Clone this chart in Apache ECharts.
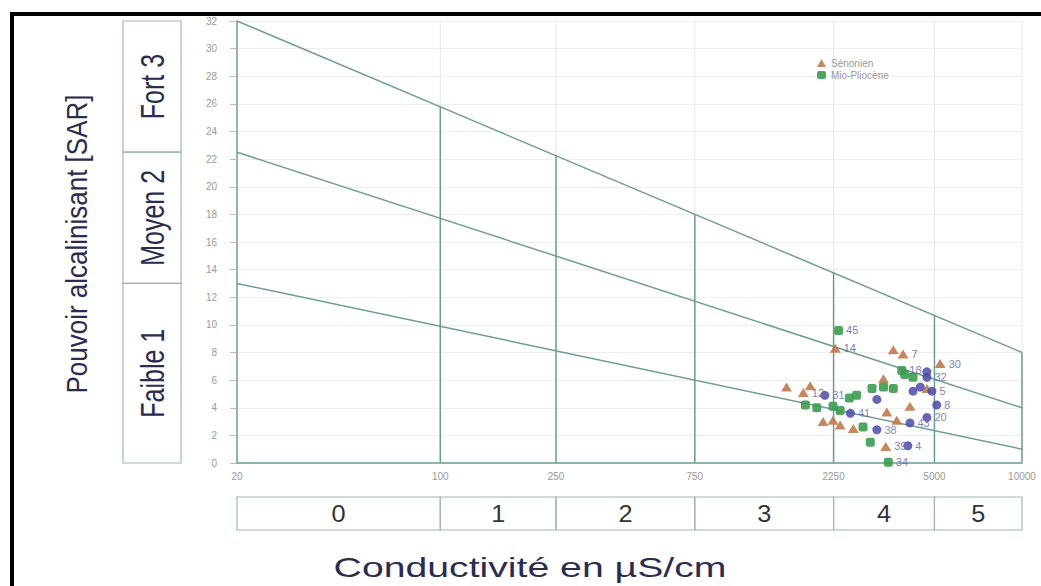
<!DOCTYPE html>
<html>
<head>
<meta charset="utf-8">
<script src="https://cdn.jsdelivr.net/npm/echarts@6/dist/echarts.min.js"></script>
<style>
html,body{margin:0;padding:0;background:#fff;}
#chart{width:1041px;height:586px;}
</style>
</head>
<body>
<div id="chart"></div>
<script>
// ---------- DATA ----------
const xTicks = [20, 100, 250, 750, 2250, 5000, 10000];
const yMin = 0, yMax = 32, yStep = 2;

// diagonal class boundaries: [EC, SAR] end points
const lineTop = [[20, 32], [10000, 8]];
const lineMid = [[20, 22.5], [10000, 4]];
const lineLow = [[20, 13], [10000, 1]];

// vertical boundaries: [EC, SAR where it meets the top line]
const verticals = [[100, 25.8], [250, 22.3], [750, 18.0], [2250, 13.8], [5000, 10.7], [10000, 8.0]];

// left SAR classes [from, to]
const sarBands = [[0, 13], [13, 22.5], [22.5, 32]];
const sarLabels = ['Faible 1', 'Moyen 2', 'Fort 3'];

// bottom conductivity classes [from, to]
const ecBands = [[20, 100], [100, 250], [250, 750], [750, 2250], [2250, 5000], [5000, 10000]];
const ecLabels = ['0', '1', '2', '3', '4', '5'];

// samples: [EC µS/cm, SAR, label]
const senonien = [
  [2280, 8.3, '14'], [3610, 8.2, ''], [3900, 7.9, '7'], [5230, 7.2, '30'],
  [3340, 6.1, ''], [1550, 5.5, ''], [1870, 5.6, ''], [1770, 5.1, '12'],
  [4710, 5.4, ''], [3430, 3.7, ''], [4120, 4.1, ''], [2070, 3.0, ''],
  [2240, 3.1, ''], [2370, 2.75, ''], [2630, 2.5, ''], [3710, 3.1, ''],
  [3400, 1.2, '39']
];
const mioPliocene = [
  [2340, 9.6, '45'], [3860, 6.7, '18'], [3950, 6.4, ''], [4220, 6.2, ''],
  [3050, 5.4, ''], [3340, 5.5, ''], [3610, 5.4, ''], [2700, 4.9, ''],
  [2550, 4.7, ''], [1970, 4.0, ''], [2240, 4.1, ''], [2370, 3.8, ''],
  [1800, 4.2, ''], [2840, 2.6, ''], [3010, 1.5, ''], [3470, 0.05, '34']
];
const autres = [
  [4710, 6.2, '32'], [4710, 6.6, ''], [4470, 5.5, ''], [3170, 4.6, ''],
  [4220, 5.2, ''], [4900, 5.2, '5'], [5090, 4.2, '8'], [2570, 3.6, '41'],
  [3170, 2.4, '38'], [4120, 2.9, '43'], [4710, 3.3, '20'], [2100, 4.9, '31'],
  [4050, 1.25, '4']
];

// ---------- STYLE ----------
const LINE = '#6e9c96';
const BOX = '#9fb8b3';
const TXT = '#2b2d4e';
const LBL = '#6c6ca6';

const chart = echarts.init(document.getElementById('chart'), null, {renderer: 'svg'});

function toPts(arr) { return arr.map(d => ({value: [d[0], d[1]], lab: d[2]})); }
const ptLabel = {show: true, position: 'right', distance: 3, color: LBL, fontSize: 11,
  fontFamily: 'Liberation Sans', formatter: p => p.data.lab};

function diag(d) {
  return {type: 'line', data: d, xAxisIndex: 0, yAxisIndex: 0, symbol: 'none', silent: true,
    lineStyle: {color: LINE, width: 1.5}, z: 3};
}

const option = {
  backgroundColor: '#fff',
  animation: false,
  legend: {
    data: ['Sénonien', 'Mio-Pliocène'], orient: 'vertical', left: 812, top: 53,
    itemWidth: 9, itemHeight: 8, itemGap: 2,
    textStyle: {fontSize: 10, color: '#999', fontFamily: 'Liberation Sans'}
  },
  grid: [
    {left: 237, top: 21, width: 785, height: 442},
    {left: 123, top: 21, width: 58, height: 442},
    {left: 237, top: 497, width: 785, height: 33}
  ],
  xAxis: [
    {type: 'log', logBase: 10, min: 20, max: 10000, gridIndex: 0,
      axisLine: {show: true, lineStyle: {color: LINE, width: 1.5}},
      axisTick: {show: false},
      axisLabel: {customValues: xTicks, color: '#999', fontSize: 10, margin: 8,
        fontFamily: 'Liberation Sans', formatter: v => String(Math.round(v))},
      splitLine: {show: false}},
    {type: 'value', min: 0, max: 1, gridIndex: 1, show: false},
    {type: 'log', logBase: 10, min: 20, max: 10000, gridIndex: 2, show: false}
  ],
  yAxis: [
    {type: 'value', min: yMin, max: yMax, interval: yStep, gridIndex: 0,
      axisLine: {show: true, lineStyle: {color: LINE, width: 1.5}},
      axisTick: {show: true, length: 7, lineStyle: {color: '#bbb'}},
      axisLabel: {color: '#999', fontSize: 10, margin: 20, fontFamily: 'Liberation Sans'},
      splitLine: {show: true, lineStyle: {color: '#eeeeee'}}},
    {type: 'value', min: yMin, max: yMax, gridIndex: 1, show: false},
    {type: 'value', min: 0, max: 1, gridIndex: 2, show: false}
  ],
  series: [
    // faint full-height vertical grid lines
    {type: 'custom', xAxisIndex: 0, yAxisIndex: 0, silent: true, z: 1,
      data: verticals.map(v => [v[0], yMax]),
      encode: {x: 0, y: 1},
      renderItem: (params, api) => {
        const p0 = api.coord([api.value(0), yMin]);
        const p1 = api.coord([api.value(0), yMax]);
        return {type: 'line', shape: {x1: p0[0], y1: p0[1], x2: p1[0], y2: p1[1]},
          style: {stroke: '#e6e6e6', lineWidth: 1}};
      }},
    // class vertical lines
    {type: 'custom', xAxisIndex: 0, yAxisIndex: 0, silent: true, z: 3,
      data: verticals, encode: {x: 0, y: 1},
      renderItem: (params, api) => {
        const p0 = api.coord([api.value(0), yMin]);
        const p1 = api.coord([api.value(0), api.value(1)]);
        return {type: 'line', shape: {x1: p0[0], y1: p0[1], x2: p1[0], y2: p1[1]},
          style: {stroke: LINE, lineWidth: 1.5}};
      }},
    diag(lineTop), diag(lineMid), diag(lineLow),
    // left SAR class boxes
    {type: 'custom', xAxisIndex: 1, yAxisIndex: 1, silent: true,
      data: sarBands, encode: {y: [0, 1]},
      renderItem: (params, api) => {
        const a = api.coord([0, api.value(0)]);
        const b = api.coord([1, api.value(1)]);
        return {type: 'group', children: [
          {type: 'rect', shape: {x: a[0], y: b[1], width: b[0] - a[0], height: a[1] - b[1]},
            style: {fill: 'none', stroke: BOX, lineWidth: 1.2}},
          {type: 'text', x: (a[0] + b[0]) / 2, y: (a[1] + b[1]) / 2, rotation: Math.PI / 2,
            scaleY: 1.35,
            style: {text: sarLabels[params.dataIndex], fill: TXT, align: 'center', verticalAlign: 'middle',
              font: '25px "Liberation Sans"'}}
        ]};
      }},
    // bottom EC class boxes
    {type: 'custom', xAxisIndex: 2, yAxisIndex: 2, silent: true,
      data: ecBands, encode: {x: [0, 1]},
      renderItem: (params, api) => {
        const a = api.coord([api.value(0), 0]);
        const b = api.coord([api.value(1), 1]);
        return {type: 'group', children: [
          {type: 'rect', shape: {x: a[0], y: b[1], width: b[0] - a[0], height: a[1] - b[1]},
            style: {fill: 'none', stroke: BOX, lineWidth: 1.2}},
          {type: 'text', x: (a[0] + b[0]) / 2, y: (a[1] + b[1]) / 2, scaleX: 1.1,
            style: {text: ecLabels[params.dataIndex], fill: '#333', align: 'center', verticalAlign: 'middle',
              font: '23px "Liberation Sans"'}}
        ]};
      }},
    {name: 'Sénonien', type: 'scatter', xAxisIndex: 0, yAxisIndex: 0, z: 5,
      symbol: 'triangle', symbolSize: [11, 9],
      itemStyle: {color: '#c07a4c', opacity: 0.9}, label: ptLabel, data: toPts(senonien)},
    {name: 'Mio-Pliocène', type: 'scatter', xAxisIndex: 0, yAxisIndex: 0, z: 5,
      symbol: 'roundRect', symbolSize: 9,
      itemStyle: {color: '#3d9b52', opacity: 0.9}, label: ptLabel, data: toPts(mioPliocene)},
    {name: 'Autres', type: 'scatter', xAxisIndex: 0, yAxisIndex: 0, z: 5,
      symbol: 'circle', symbolSize: 9,
      itemStyle: {color: '#4b4ba8', opacity: 0.85}, label: ptLabel, data: toPts(autres)}
  ],
  graphic: [
    {type: 'rect', shape: {x: 10, y: 12, width: 1031, height: 4}, style: {fill: '#000'}},
    {type: 'rect', shape: {x: 10, y: 12, width: 4, height: 574}, style: {fill: '#000'}},
    {type: 'text', x: 77, y: 244, rotation: Math.PI / 2, scaleY: 1.15,
      style: {text: 'Pouvoir alcalinisant [SAR]', fill: TXT, align: 'center', verticalAlign: 'middle',
        font: '26px "Liberation Sans"'}},
    {type: 'text', x: 530, y: 567, scaleX: 1.4,
      style: {text: 'Conductivité en µS/cm', fill: TXT, align: 'center', verticalAlign: 'middle',
        font: '28px "Liberation Sans"'}}
  ]
};
chart.setOption(option);
</script>
</body>
</html>
